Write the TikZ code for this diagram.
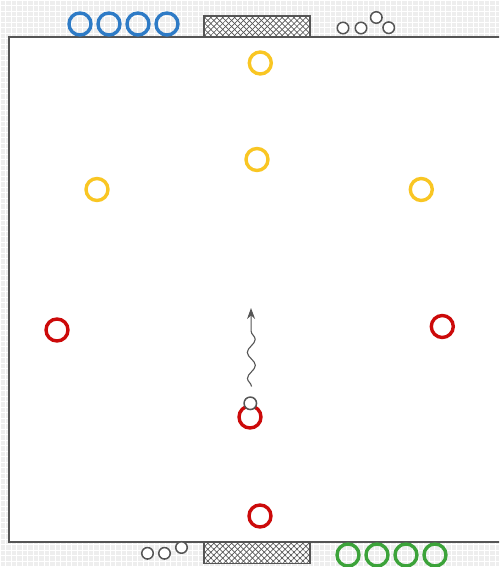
\documentclass[tikz,border=0pt]{standalone}
\usetikzlibrary{patterns.meta,arrows.meta,decorations.pathmorphing}
\definecolor{pitchgrey}{HTML}{EEEEEE}
\definecolor{linegrey}{HTML}{555555}
\definecolor{teamblue}{HTML}{2E7BC6}
\definecolor{teamyellow}{HTML}{F9C623}
\definecolor{teamred}{HTML}{CC0A0A}
\definecolor{teamgreen}{HTML}{3CA33A}
\begin{document}
\begin{tikzpicture}[
    x=1pt,
    y=-1pt,
    player/.style={circle, draw=#1, line width=3.4pt, minimum size=22pt, inner sep=0pt},
    ball/.style={circle, draw=linegrey, fill=white, line width=1.5pt, minimum size=11.5pt, inner sep=0pt},
    goal/.style={rectangle, draw=linegrey, line width=1.4pt, preaction={fill=white},
      pattern={Lines[angle=45, distance=4.2pt, line width=0.7pt]}, pattern color=linegrey,
      postaction={pattern={Lines[angle=-45, distance=4.2pt, line width=0.7pt]}, pattern color=linegrey},
      minimum width=106pt, minimum height=21pt, inner sep=0pt},
    run/.style={draw=linegrey, line width=1.1pt, -{Stealth[length=11pt,width=8pt]},
      decorate, decoration={snake, amplitude=4pt, segment length=26pt, post length=12pt}}
  ]
    \useasboundingbox (0,0) rectangle (499,567);
    \clip (0,0) rectangle (499,567);
    % background and pitch
    \fill[pitchgrey] (0,0) rectangle (499,567);
    \draw[white, line width=0.7pt, step=5.5pt] (0,0) grid (499,567);
    \draw[fill=white, draw=linegrey, line width=1.3pt] (9,37) rectangle (520,542);
    \node[goal] (topgoal) at (257,26.5) {};
    \node[goal] (bottomgoal) at (257,553) {};
    % spare balls
    \foreach \i/\x/\y in {1/343/28,2/361/28,3/376.3/17.5,4/388.7/27.7} {
      \node[ball] (topball\i) at (\x,\y) {};
    }
    \foreach \i/\x/\y in {1/147.5/553.3,2/164.5/553.3,3/181.5/547.5} {
      \node[ball] (bottomball\i) at (\x,\y) {};
    }
    % substitutes
    \foreach \i/\x in {1/80,2/109,3/138,4/167} {
      \node[player=teamblue] (blue\i) at (\x,24) {};
    }
    \foreach \i/\x in {1/348,2/377,3/406,4/435} {
      \node[player=teamgreen] (green\i) at (\x,555) {};
    }
    % field players
    \node[player=teamyellow] (yellow1) at (260.3,63) {};
    \node[player=teamyellow] (yellow2) at (257,159.5) {};
    \node[player=teamyellow] (yellow3) at (97,189.5) {};
    \node[player=teamyellow] (yellow4) at (421.3,189.5) {};
    \node[player=teamred] (red1) at (57,330) {};
    \node[player=teamred] (red2) at (442.3,326.5) {};
    \node[player=teamred] (red3) at (250,417) {};
    \node[player=teamred] (red4) at (260,516) {};
    \node[ball, minimum size=12.5pt] (gameball) at (250.3,403.3) {};
    % dribble
    \coordinate (runstart) at (251.5,386.5);
    \coordinate (runend) at (251,308);
    \draw[run] (runstart) -- (runend);
  \end{tikzpicture}
\end{document}
